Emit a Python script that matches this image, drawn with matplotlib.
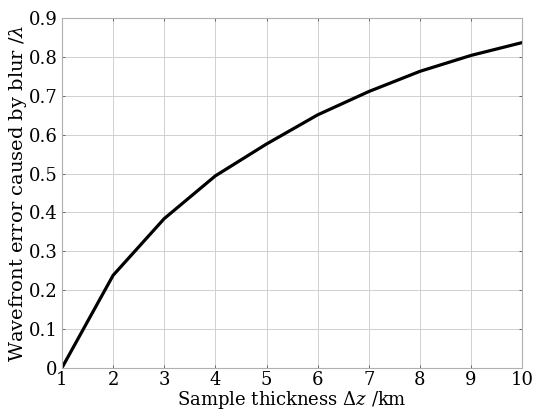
import matplotlib
matplotlib.use("Agg")
import matplotlib.pyplot as plt

# sample thickness (km) and blur-induced wavefront error (waves)
thickness = [1, 2, 3, 4, 5, 6, 7, 8, 9, 10]
wf_error = [0.0, 0.238, 0.384, 0.494, 0.576, 0.651, 0.711, 0.763, 0.804, 0.837]

xticks = [1, 2, 3, 4, 5, 6, 7, 8, 9, 10]
yticks = [0, 0.1, 0.2, 0.3, 0.4, 0.5, 0.6, 0.7, 0.8, 0.9]
ytick_labels = ["0", "0.1", "0.2", "0.3", "0.4", "0.5", "0.6", "0.7", "0.8", "0.9"]

plt.rcParams["font.family"] = "DejaVu Serif"
plt.rcParams["mathtext.fontset"] = "dejavuserif"

fig = plt.figure(figsize=(5.34, 4.11), dpi=100)
ax = fig.add_axes([0.116, 0.105, 0.862, 0.851])

ax.plot(thickness, wf_error, color="black", lw=2.3)

ax.set_xlim(1, 10)
ax.set_ylim(0, 0.9)
ax.set_xticks(xticks)
ax.set_yticks(yticks)
ax.set_yticklabels(ytick_labels)
ax.grid(True, color="#d0d0d0", lw=0.7)
ax.tick_params(direction="in", length=2, width=0.6, color="#555555",
               top=True, right=True, labelsize=13)
ax.tick_params(axis="x", pad=2.5)
ax.tick_params(axis="y", pad=3)
for s in ax.spines.values():
    s.set_color("#b0b0b0")
    s.set_linewidth(0.8)

ax.set_xlabel(r"Sample thickness $\Delta z$ /km", fontsize=13, labelpad=0)
ax.set_ylabel(r"Wavefront error caused by blur /$\lambda$", fontsize=14, labelpad=0)

fig.savefig("out.png", dpi=100)
